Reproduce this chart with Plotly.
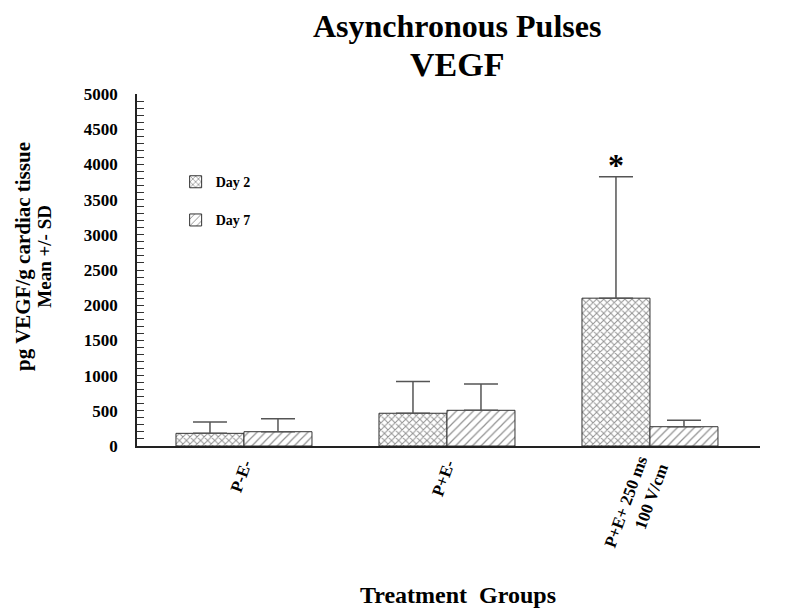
import plotly.graph_objects as go

categories = ["P-E-", "P+E-", "P+E+ 250 ms<br>100 V/cm"]
day2_mean = [180, 465, 2100]
day2_sd = [160, 450, 1725]
day7_mean = [203, 507, 274]
day7_sd = [185, 373, 91]

FONT = "Liberation Serif"

fig = go.Figure()
fig.add_trace(go.Bar(
    name="<b>Day 2</b>", x=categories, y=day2_mean, legendgroup="d2",
    marker=dict(color="white", line=dict(color="#333", width=1),
                pattern=dict(shape="x", fgcolor="#222", bgcolor="white", size=5, solidity=0.35)),
    error_y=dict(type="data", array=day2_sd, arrayminus=[0, 0, 0], symmetric=False,
                 color="#555", thickness=1.5, width=17),
))
fig.add_trace(go.Bar(
    name="<b>Day 7</b>", x=categories, y=day7_mean, legendgroup="d7",
    marker=dict(color="white", line=dict(color="#333", width=1),
                pattern=dict(shape="/", fgcolor="#222", bgcolor="white", size=6, solidity=0.2)),
    error_y=dict(type="data", array=day7_sd, arrayminus=[0, 0, 0], symmetric=False,
                 color="#555", thickness=1.5, width=17),
))

fig.add_annotation(x=categories[2], y=day2_mean[2] + day2_sd[2], xshift=-34, yshift=12,
                   xanchor="center", yanchor="middle",
                   text="<b>*</b>", showarrow=False, font=dict(family=FONT, size=32, color="black"))

fig.add_annotation(xref="paper", yref="paper", x=0.514, y=1.194, xanchor="center", yanchor="middle",
                   text="<b>Asynchronous Pulses</b>", showarrow=False,
                   font=dict(family=FONT, size=32, color="black"))
fig.add_annotation(xref="paper", yref="paper", x=0.514, y=1.085, xanchor="center", yanchor="middle",
                   text="<b>VEGF</b>", showarrow=False,
                   font=dict(family=FONT, size=34, color="black"))

fig.add_annotation(xref="paper", yref="paper", x=-0.183, y=0.54, textangle=-90,
                   xanchor="center", yanchor="middle",
                   text="<b>pg VEGF/g cardiac tissue</b>", showarrow=False,
                   font=dict(family=FONT, size=21, color="black"))
fig.add_annotation(xref="paper", yref="paper", x=-0.148, y=0.54, textangle=-90,
                   xanchor="center", yanchor="middle",
                   text="<b>Mean +/- SD</b>", showarrow=False,
                   font=dict(family=FONT, size=19, color="black"))
fig.add_annotation(xref="paper", yref="paper", x=0.515, y=-0.423, xanchor="center", yanchor="middle",
                   text="<b>Treatment  Groups</b>", showarrow=False,
                   font=dict(family=FONT, size=24, color="black"))

fig.update_layout(
    width=790, height=615,
    paper_bgcolor="white", plot_bgcolor="white",
    margin=dict(l=129, r=38, t=86, b=177),
    barmode="group", bargap=0.33, bargroupgap=0,
    font=dict(family=FONT, color="black"),
    showlegend=True,
    legend=dict(x=0.062, y=0.795, xanchor="left", yanchor="top", bgcolor="rgba(0,0,0,0)",
                font=dict(family=FONT, size=14, color="black"), tracegroupgap=17,
                traceorder="grouped"),
    xaxis=dict(range=[-0.527, 2.542], showline=True, linecolor="#222", linewidth=1.5,
               ticks="", tickangle=-70, showgrid=False,
               tickfont=dict(family=FONT, size=17, color="black"),
               tickprefix="<b>", ticksuffix="</b>"),
    yaxis=dict(range=[0, 5000], dtick=500, showline=True, linecolor="#222", linewidth=1.5,
               ticks="inside", ticklen=7, tickcolor="#333", showgrid=False, zeroline=False,
               tickfont=dict(family=FONT, size=17, color="black"), ticklabelstandoff=14,
               tickprefix="<b>", ticksuffix="</b>",
               minor=dict(dtick=100, ticks="inside", ticklen=7, tickcolor="#333", showgrid=False)),
)

fig.write_html("out.html")
